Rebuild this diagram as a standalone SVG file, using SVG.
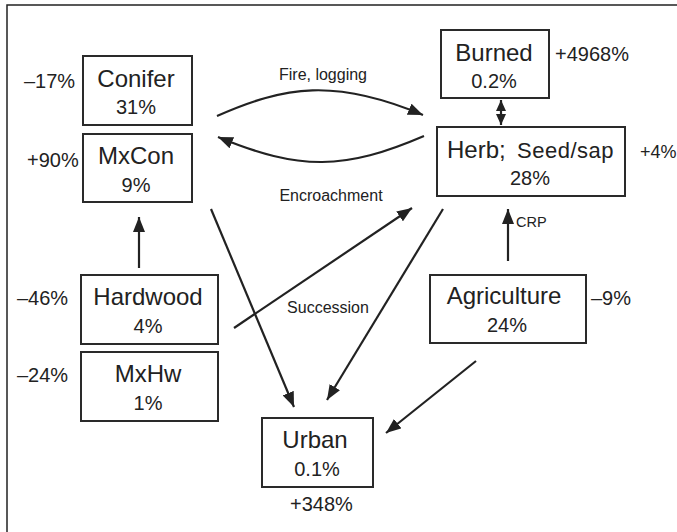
<svg xmlns="http://www.w3.org/2000/svg" width="677" height="532" viewBox="0 0 677 532">
<defs>
<style>
text{font-family:"Liberation Sans",Arial,sans-serif;fill:#222}
.box{fill:#fff;stroke:#2a2a2a;stroke-width:2}
.name{font-size:24px;text-anchor:middle}
.pct{font-size:20px;text-anchor:middle}
.chg{font-size:20px}
.lbl{font-size:16px;text-anchor:middle}
.edge{fill:none;stroke:#222;stroke-width:2.2}
.frame{fill:none;stroke:#222;stroke-width:1.5}
</style>
<marker id="ah" markerUnits="userSpaceOnUse" markerWidth="16" markerHeight="12" viewBox="0 0 16 12" refX="15" refY="6" orient="auto">
<path d="M0,0 L15,6 L0,12 Z" fill="#222"/>
</marker>
<marker id="ahs" markerUnits="userSpaceOnUse" markerWidth="12" markerHeight="10" viewBox="0 0 12 10" refX="11" refY="5" orient="auto-start-reverse">
<path d="M0,0 L11,5 L0,10 Z" fill="#222"/>
</marker>
</defs>
<rect width="677" height="532" fill="#fff"/>
<path class="frame" d="M7,532 V5 H677"/>

<g id="connectors">
<path class="edge" d="M217,116 C285,86 335,78 423,115" marker-end="url(#ah)"/>
<path class="edge" d="M424,136 C345,170 300,171 218,137" marker-end="url(#ah)"/>
<path class="edge" d="M501,100 V125" marker-start="url(#ahs)" marker-end="url(#ahs)"/>
<path class="edge" d="M139,268 V217" marker-end="url(#ah)"/>
<path class="edge" d="M234,328 L412,208" marker-end="url(#ah)"/>
<path class="edge" d="M211,209 L294,407" marker-end="url(#ah)"/>
<path class="edge" d="M443,209 L327,400" marker-end="url(#ah)"/>
<path class="edge" d="M476,361 L386,433" marker-end="url(#ah)"/>
<path class="edge" d="M508,261 V209" marker-end="url(#ah)"/>
<text class="lbl" x="323" y="80">Fire, logging</text>
<text class="lbl" x="331" y="201">Encroachment</text>
<text class="lbl" x="328" y="313">Succession</text>
<text x="516" y="227" style="font-size:14.5px">CRP</text>
</g>

<g id="conifer">
<rect class="box" x="83" y="56" width="109" height="69"/>
<text class="name" x="136" y="87">Conifer</text>
<text class="pct" x="136" y="114">31%</text>
<text class="chg" x="24" y="88">–17%</text>
</g>

<g id="mxcon">
<rect class="box" x="83" y="134" width="109" height="68"/>
<text class="name" x="136" y="164">MxCon</text>
<text class="pct" x="136" y="192">9%</text>
<text class="chg" x="27" y="167">+90%</text>
</g>

<g id="hardwood">
<rect class="box" x="81" y="275" width="137" height="69"/>
<text class="name" x="148" y="305">Hardwood</text>
<text class="pct" x="148" y="333">4%</text>
<text class="chg" x="17" y="305">–46%</text>
</g>

<g id="mxhw">
<rect class="box" x="81" y="352" width="137" height="69"/>
<text class="name" x="148" y="382">MxHw</text>
<text class="pct" x="148" y="410">1%</text>
<text class="chg" x="17" y="382">–24%</text>
</g>

<g id="burned">
<rect class="box" x="441" y="30" width="108" height="68"/>
<text class="name" x="494" y="61">Burned</text>
<text class="pct" x="494" y="88">0.2%</text>
<text class="chg" x="555" y="61">+4968%</text>
</g>

<g id="herb">
<rect class="box" x="437" y="127" width="188" height="69"/>
<text x="447" y="158" style="font-size:24px">Herb;</text>
<text x="517" y="158" style="font-size:22px;letter-spacing:0.5px">Seed/sap</text>
<text class="pct" x="530" y="185">28%</text>
<text x="640" y="158" style="font-size:18px">+4%</text>
</g>

<g id="agriculture">
<rect class="box" x="430" y="275" width="156" height="68"/>
<text class="name" x="504" y="304">Agriculture</text>
<text class="pct" x="507" y="332">24%</text>
<text class="chg" x="591" y="305">–9%</text>
</g>

<g id="urban">
<rect class="box" x="262" y="418" width="111" height="69"/>
<text class="name" x="315" y="448">Urban</text>
<text class="pct" x="317" y="476">0.1%</text>
<text class="chg" x="290" y="511">+348%</text>
</g>
</svg>
